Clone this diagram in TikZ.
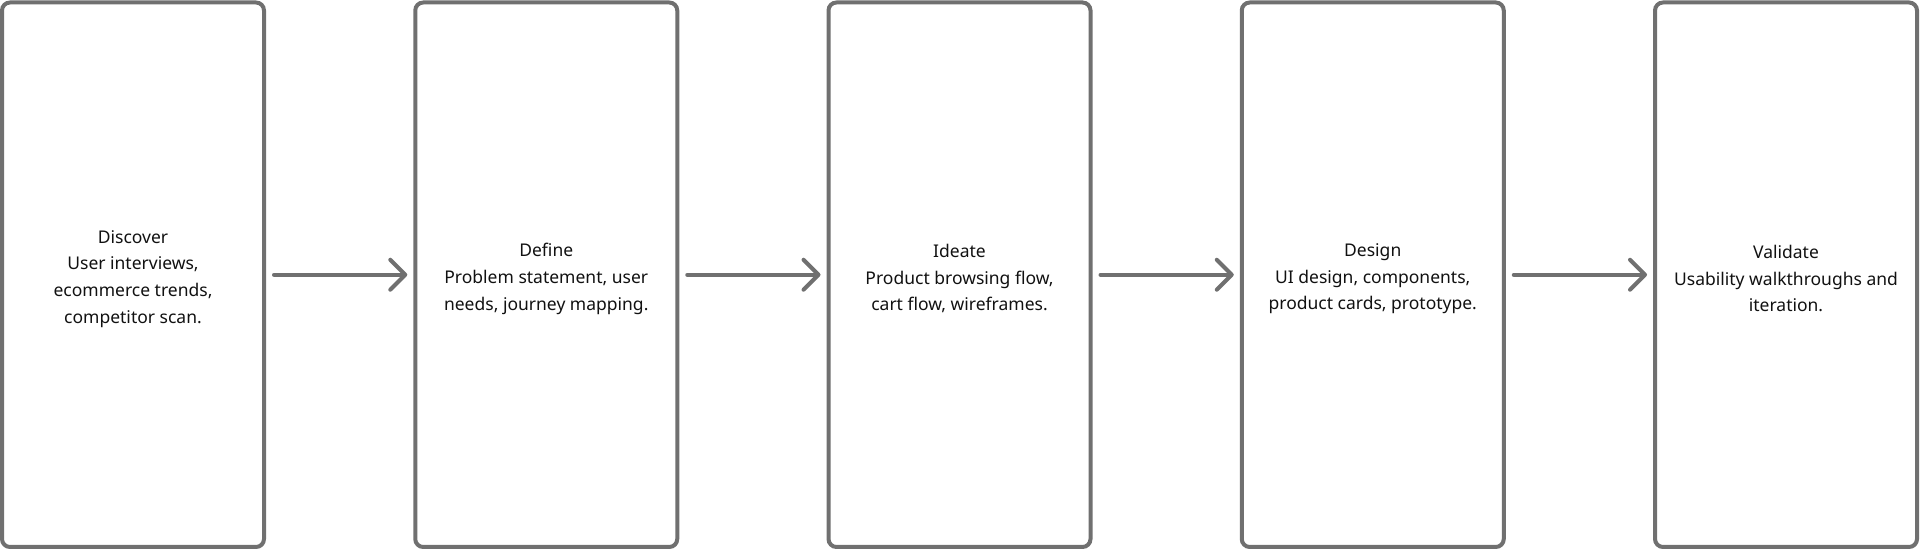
\documentclass[tikz,border=0pt]{standalone}
\usepackage{fontspec}
\setmainfont{Noto Sans}
\usetikzlibrary{arrows.meta}
\definecolor{edgegray}{HTML}{707070}
\definecolor{textdark}{HTML}{111111}
\tikzset{
  x=1pt, y=1pt,
  stage/.style={draw=edgegray, line width=4pt, rounded corners=8pt, fill=white,
    minimum width=262pt, minimum height=544.5pt, inner sep=0pt},
  stagetext/.style={align=center, text=textdark, inner sep=0pt, yshift=-4pt,
    font=\fontsize{17.5pt}{26.7pt}\selectfont},
  flow/.style={draw=edgegray, line width=4pt, line cap=round, line join=round,
    -{Straight Barb[length=15pt, width=30pt, line cap=round, line join=round]},
    shorten <=8pt, shorten >=6pt}
}
\begin{document}
\begin{tikzpicture}
\useasboundingbox (0,0) rectangle (1920,551);
\node[stage] (s1) at (133,276.25) {};
\node[stage] (s2) at (546.25,276.25) {};
\node[stage] (s3) at (959.5,276.25) {};
\node[stage] (s4) at (1372.75,276.25) {};
\node[stage] (s5) at (1786,276.25) {};
\node[stagetext] (t1) at (s1.center) {Discover\\User interviews,\\ecommerce trends,\\competitor scan.};
\node[stagetext] (t2) at (s2.center) {Define\\Problem statement, user\\needs, journey mapping.};
\node[stagetext] (t3) at (s3.center) {Ideate\\Product browsing flow,\\cart flow, wireframes.};
\node[stagetext] (t4) at (s4.center) {Design\\UI design, components,\\product cards, prototype.};
\node[stagetext] (t5) at (s5.center) {Validate\\Usability walkthroughs and\\iteration.};
\draw[flow] (s1.east) -- (s2.west);
\draw[flow] (s2.east) -- (s3.west);
\draw[flow] (s3.east) -- (s4.west);
\draw[flow] (s4.east) -- (s5.west);
\end{tikzpicture}
\end{document}
